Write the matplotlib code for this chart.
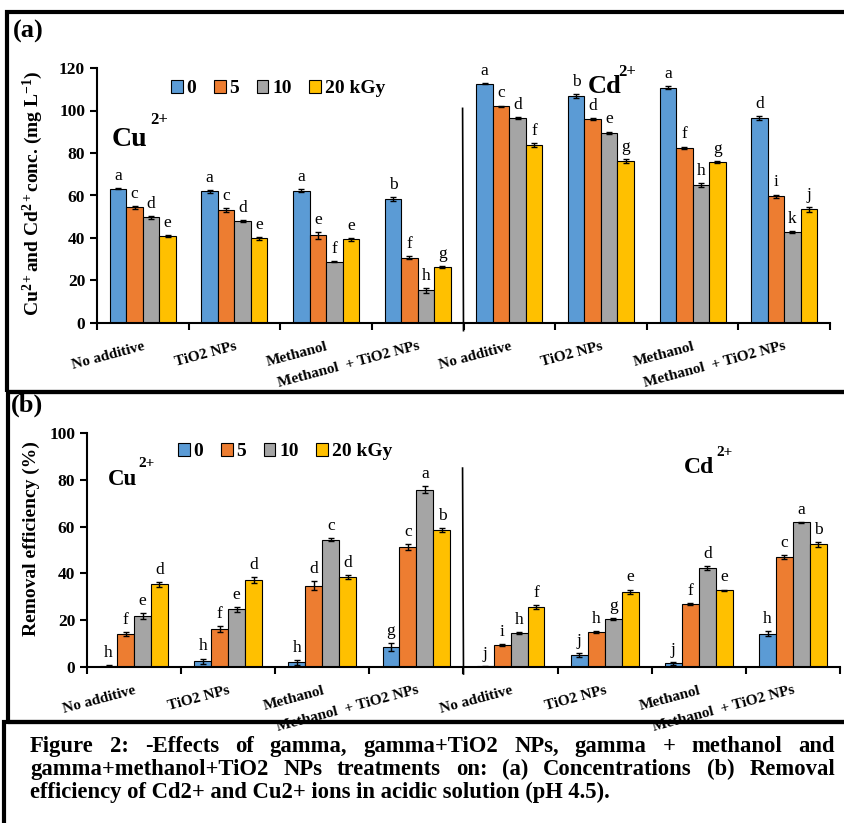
import matplotlib
matplotlib.use('Agg')
import matplotlib.pyplot as plt
import numpy as np
from matplotlib.patches import Rectangle

plt.rcParams['font.family'] = 'Liberation Serif'
plt.rcParams['mathtext.fontset'] = 'custom'
plt.rcParams['mathtext.rm'] = 'Liberation Serif'
plt.rcParams['mathtext.bf'] = 'Liberation Serif:bold'
plt.rcParams['mathtext.it'] = 'Liberation Serif:italic'

W, H = 845, 823

treatments = ['No additive', 'TiO2 NPs', 'Methanol', 'Methanol  + TiO2 NPs']
doses = ['0', '5', '10', '20 kGy']
colors = ['#5B9BD5', '#ED7D31', '#A5A5A5', '#FFC000']

# (a) concentrations, rows = treatments, columns = doses
conc_cu = [[63.2, 54.4, 49.7, 40.9],
           [62.0, 53.2, 48.1, 39.8],
           [62.3, 41.2, 28.9, 39.3],
           [58.2, 30.8, 15.3, 26.3]]
conc_cu_err = [[0.3, 0.6, 0.8, 0.6],
               [0.6, 1.0, 0.5, 0.7],
               [0.7, 1.5, 0.4, 0.5],
               [1.0, 0.8, 1.2, 0.5]]
conc_cu_let = ['acde', 'acde', 'aefe', 'bfhg']
conc_cd = [[112.6, 101.9, 96.5, 83.8],
           [106.8, 95.9, 89.5, 76.3],
           [110.8, 82.5, 64.9, 75.6],
           [96.5, 59.7, 42.8, 53.5]]
conc_cd_err = [[0.3, 0.4, 0.5, 0.9],
               [0.9, 0.4, 0.6, 1.0],
               [0.8, 0.5, 1.0, 0.4],
               [1.0, 0.7, 0.3, 1.1]]
conc_cd_let = ['acdf', 'bdeg', 'afhg', 'dikj']

# (b) removal efficiency (%)
rem_cu = [[0.6, 14.2, 21.9, 35.3],
          [2.4, 16.2, 24.6, 37.3],
          [2.0, 34.8, 54.4, 38.3],
          [8.5, 51.4, 75.8, 58.5]]
rem_cu_err = [[0.2, 0.8, 1.3, 1.0],
              [1.2, 1.4, 0.9, 1.2],
              [1.0, 2.0, 0.7, 0.9],
              [1.8, 1.2, 1.5, 0.8]]
rem_cu_let = ['hfed', 'hfed', 'hdcd', 'gcab']
rem_cd = [[0.3, 9.4, 14.4, 25.5],
          [5.1, 15.0, 20.5, 32.1],
          [1.6, 26.8, 42.2, 32.8],
          [14.2, 47.0, 61.8, 52.4]]
rem_cd_err = [[0.1, 0.3, 0.4, 0.9],
              [1.0, 0.4, 0.3, 1.0],
              [0.6, 0.4, 0.9, 0.3],
              [1.0, 0.8, 0.3, 1.1]]
rem_cd_let = ['jihf', 'jhge', 'jfde', 'hcab']

caption = ['Figure 2: -Effects of gamma, gamma+TiO2 NPs, gamma + methanol and',
           'gamma+methanol+TiO2 NPs treatments on: (a) Concentrations (b) Removal',
           'efficiency of Cd2+ and Cu2+ ions in acidic solution (pH 4.5).']


def fx(px):
    return px / W


def fy(py):
    return 1 - py / H


def draw_panel(ax, cu, cd, cu_err, cd_err, cu_let, cd_let, ymax, div_top):
    vals = np.array(cu + cd)
    errs = np.array(cu_err + cd_err)
    lets = cu_let + cd_let
    x = np.arange(len(vals))
    w = 0.18
    for j in range(4):
        xs = x + (j - 1.5) * w
        ax.bar(xs, vals[:, j], w, color=colors[j], edgecolor='black',
               linewidth=0.8, label=doses[j], yerr=errs[:, j], capsize=2.5,
               error_kw=dict(elinewidth=1, capthick=1, ecolor='black'))
        for k in range(len(vals)):
            ax.annotate(lets[k][j], (xs[k], vals[k, j] + errs[k, j]),
                        xytext=(0, 3), textcoords='offset points',
                        ha='center', va='bottom', fontsize=12.5)
    ax.set_xlim(-0.5, 7.5)
    ax.set_ylim(0, ymax)
    ax.set_yticks(np.arange(0, ymax + 1, 20))
    ax.set_xticks(np.arange(-0.5, 8, 1))
    ax.set_xticklabels([])
    ax.set_xticks(x, minor=True)
    ax.set_xticklabels(treatments * 2, minor=True, rotation=15, ha='right',
                       va='top', rotation_mode='anchor', fontsize=11,
                       fontweight='bold')
    ax.tick_params(axis='x', which='minor', length=0, pad=12)
    ax.tick_params(axis='x', which='major', length=5, width=1.5)
    ax.tick_params(axis='y', length=5, width=1.5, labelsize=12.5)
    for t in ax.get_yticklabels():
        t.set_fontweight('bold')
    for s in ['top', 'right']:
        ax.spines[s].set_visible(False)
    for s in ['left', 'bottom']:
        ax.spines[s].set_linewidth(1.5)
    ax.plot([3.5, 3.49], [-0.03 * ymax, div_top], color='black', lw=1.2,
            clip_on=False)
    ax.legend(loc='center', ncol=4, frameon=False, handlelength=0.6,
              handleheight=0.6, handletextpad=0.2, columnspacing=0.9,
              prop=dict(size=14, weight='bold'))


fig = plt.figure(figsize=(W / 100, H / 100), dpi=100)

ax1 = fig.add_axes([fx(97), fy(323), fx(830) - fx(97), fy(68) - fy(323)])
draw_panel(ax1, conc_cu, conc_cd, conc_cu_err, conc_cd_err,
           conc_cu_let, conc_cd_let, 120, 101)
ax1.legend_.set_bbox_to_anchor((0.247, 0.918))
ax1.set_ylabel(r'Cu$^{\mathbf{2+}}$and Cd$^{\mathbf{2+}}$conc. (mg L$^{\mathbf{-1}}$)',
               fontsize=14, fontweight='bold')
ax1.yaxis.set_label_coords(-0.071, 0.51)

ax2 = fig.add_axes([fx(87), fy(667), fx(840) - fx(87), fy(433) - fy(667)])
draw_panel(ax2, rem_cu, rem_cd, rem_cu_err, rem_cd_err,
           rem_cu_let, rem_cd_let, 100, 85)
ax2.legend_.set_bbox_to_anchor((0.263, 0.919))
ax2.set_ylabel('Removal efficiency (%)', fontsize=14, fontweight='bold')
ax2.yaxis.set_label_coords(-0.062, 0.55)

# ion labels
fig.text(fx(112), fy(146), 'Cu', fontsize=20, fontweight='bold', va='baseline')
fig.text(fx(150), fy(124), '2+', fontsize=12, fontweight='bold', va='baseline')
fig.text(fx(588), fy(93), 'Cd', fontsize=19, fontweight='bold', va='baseline')
fig.text(fx(618), fy(76), '2+', fontsize=12, fontweight='bold', va='baseline')
fig.text(fx(108), fy(485), 'Cu', fontsize=16.5, fontweight='bold', va='baseline')
fig.text(fx(138), fy(467), '2+', fontsize=11, fontweight='bold', va='baseline')
fig.text(fx(684), fy(473), 'Cd', fontsize=17, fontweight='bold', va='baseline')
fig.text(fx(716), fy(456), '2+', fontsize=11, fontweight='bold', va='baseline')

# panel letters
fig.text(fx(13), fy(38), '(a)', fontsize=19, fontweight='bold', va='baseline')
fig.text(fx(11), fy(412), '(b)', fontsize=19, fontweight='bold', va='baseline')

# frames
for (x0, y0, x1, y1) in [(7, 12, 860, 392), (8, 392, 860, 722),
                         (4, 722, 860, 840)]:
    fig.add_artist(Rectangle((fx(x0), fy(y1)), fx(x1) - fx(x0),
                             fy(y0) - fy(y1), fill=False, edgecolor='black',
                             linewidth=3, clip_on=False))

# caption, first two lines justified
renderer = fig.canvas.get_renderer()
probe = fig.text(0, 0, caption[1], fontsize=10, fontweight='bold')
cap_fs = 10 * 740 / probe.get_window_extent(renderer).width
probe.remove()
x_left, x_right = 30, 835
baselines = [752, 775, 798]
for i, line in enumerate(caption):
    if i == len(caption) - 1:
        fig.text(fx(x_left), fy(baselines[i]), line, fontsize=cap_fs,
                 fontweight='bold', va='baseline')
        continue
    words = line.split()
    texts = [fig.text(0, fy(baselines[i]), wd, fontsize=cap_fs,
                      fontweight='bold', va='baseline') for wd in words]
    widths = [t.get_window_extent(renderer).width for t in texts]
    gap = (x_right - x_left - sum(widths)) / (len(words) - 1)
    xpos = x_left
    for t, wdt in zip(texts, widths):
        t.set_x(fx(xpos))
        xpos += wdt + gap

fig.savefig('out.png', dpi=100)
